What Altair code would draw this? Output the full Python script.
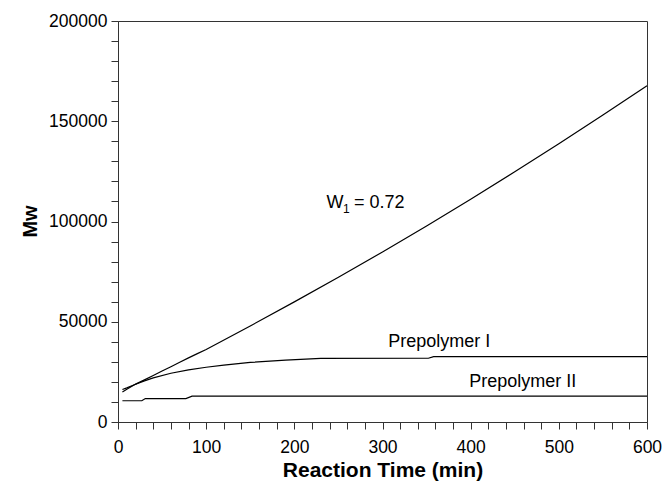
import altair as alt
import pandas as pd

# --- data ---
time_w1 = [5, 10, 20, 30, 40, 50, 60, 70, 80, 90, 100, 150, 200, 250, 300, 350, 400, 450, 500, 550, 600]
mw_w1 = [15000, 16300, 18900, 21000, 23200, 25400, 27600, 29800, 32000, 34100, 36200, 47900, 59900, 72200,
         84800, 97800, 111100, 124800, 138800, 153100, 167700]

time_p1 = [5, 10, 20, 30, 40, 60, 80, 100, 120, 150, 190, 230, 352, 358, 600]
mw_p1 = [16200, 17000, 18800, 20500, 22000, 24300, 26000, 27300, 28400, 29700, 30900, 31700, 31800, 32600, 32600]

time_p2 = [5, 27, 31, 77, 84, 600]
mw_p2 = [10600, 10600, 11700, 11700, 12900, 12900]

x_ticks = list(range(0, 601, 20))
y_ticks = list(range(0, 200001, 10000))

ann_text = ["W", "1", "= 0.72", "Prepolymer I", "Prepolymer II"]
ann_x = [236.4, 255.1, 267.6, 306.5, 398.3]
ann_y = [106600, 104200, 106600, 37600, 17600]
ann_size = [18, 12, 18, 18, 18]

FONT = "Liberation Sans"
AX = "#333333"

rows = []
for s, ts, ms in [("W1 = 0.72", time_w1, mw_w1), ("Prepolymer I", time_p1, mw_p1), ("Prepolymer II", time_p2, mw_p2)]:
    for t, m in zip(ts, ms):
        rows.append({"series": s, "time": t, "mw": m})
df = pd.DataFrame(rows)
ann = pd.DataFrame({"text": ann_text, "x": ann_x, "y": ann_y, "size": ann_size})

xscale = alt.Scale(domain=[0, 600], nice=False, zero=False)
yscale = alt.Scale(domain=[0, 200000], nice=False)

xaxis = alt.Axis(values=x_ticks, labelExpr="datum.value % 100 == 0 ? datum.label : ''",
                 format="d", grid=False, tickSize=7, labelPadding=9, labelFontSize=17.5, labelFont=FONT,
                 labelColor="black", labelOverlap=False, labelFlush=False, labelBound=False,
                 domainColor=AX, tickColor=AX, title="Reaction Time (min)",
                 titleFont=FONT, titleFontSize=21, titleFontWeight="bold", titleColor="black",
                 titleY=48, titleBaseline="middle")
yaxis = alt.Axis(values=y_ticks, labelExpr="datum.value % 50000 == 0 ? datum.label : ''",
                 format="d", grid=False, tickSize=7, labelPadding=4, labelFontSize=17.5, labelFont=FONT,
                 labelColor="black", labelOverlap=False, labelFlush=False, labelBound=False,
                 domainColor=AX, tickColor=AX, title="Mw",
                 titleFont=FONT, titleFontSize=20, titleFontWeight="bold", titleColor="black",
                 titleX=-88, titleY=200, titleAngle=-90, titleBaseline="middle", titleAlign="center")

lines = alt.Chart(df).mark_line(color="black", strokeWidth=1.2).encode(
    x=alt.X("time:Q", scale=xscale, axis=xaxis),
    y=alt.Y("mw:Q", scale=yscale, axis=yaxis),
    detail="series:N",
    order="time:Q",
)

texts = alt.Chart(ann).mark_text(align="left", baseline="alphabetic", font=FONT, color="black").encode(
    x=alt.X("x:Q", scale=xscale, axis=xaxis),
    y=alt.Y("y:Q", scale=yscale, axis=yaxis),
    text="text:N",
    size=alt.Size("size:Q", scale=None, legend=None),
)

chart = alt.layer(lines, texts).properties(
    width=529, height=401,
    autosize=alt.AutoSizeParams(type="none"),
    padding={"left": 118, "top": 21, "right": 16, "bottom": 65},
).configure_view(stroke=AX, strokeWidth=1)

chart.save("out.html", embed_options={"renderer": "svg", "actions": False})
